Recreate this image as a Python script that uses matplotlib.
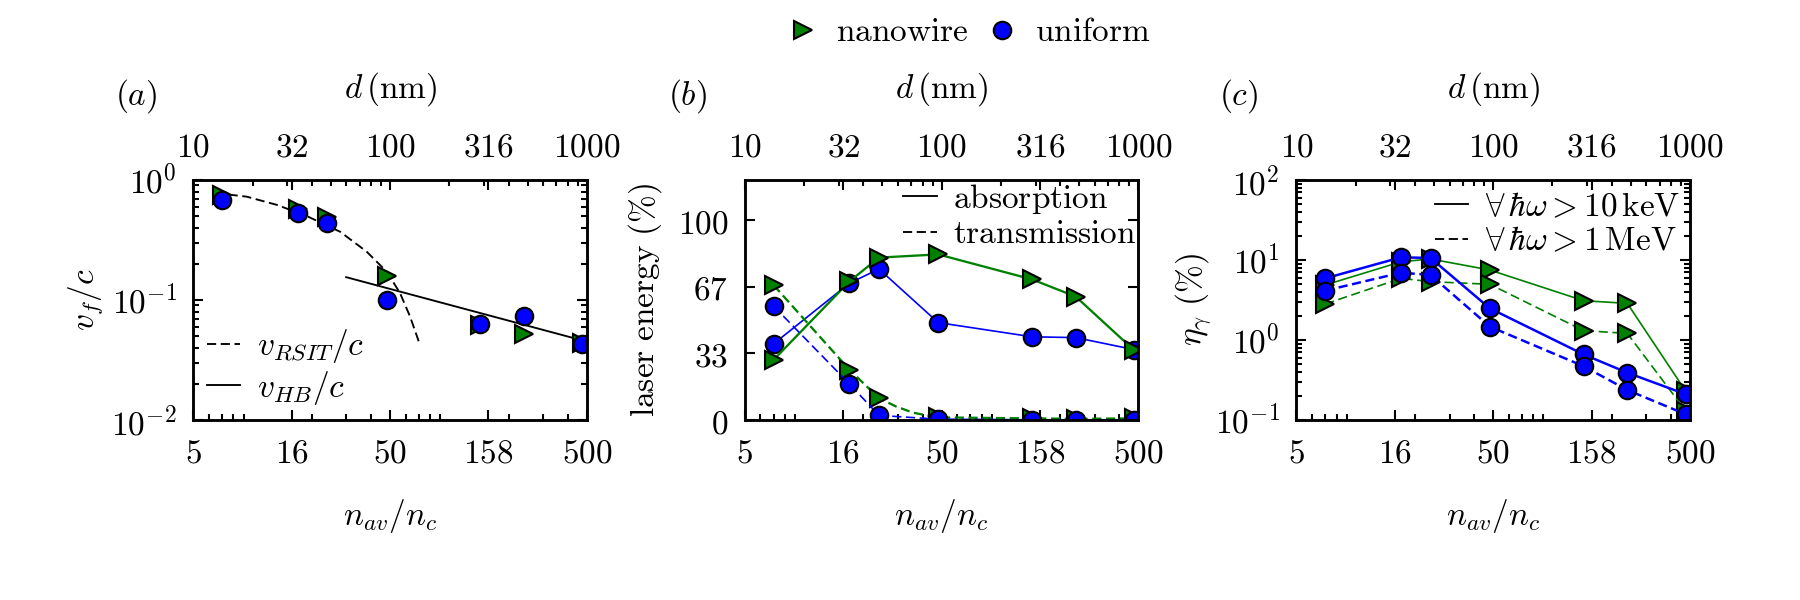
import numpy as np
import matplotlib
matplotlib.use("Agg")
import matplotlib.pyplot as plt
from matplotlib.ticker import FixedLocator, FixedFormatter, LogLocator, NullFormatter
from matplotlib.lines import Line2D

plt.rcParams['mathtext.fontset'] = 'cm'
plt.rcParams['font.size'] = 8
plt.rcParams['lines.scale_dashes'] = False

# density n_av/n_c of each run
n_av = [7, 17, 24, 48, 144, 240, 475]

# (a) front velocity
vf_wire = [0.75, 0.57, 0.494, 0.158, 0.062, 0.052, 0.044]
vf_unif = [0.68, 0.534, 0.435, 0.100, 0.063, 0.0736, 0.0427]
rsit_n = [6.44, 9.35, 13.3, 18.9, 27.9, 38.0, 48.1, 56.2, 63.2, 70.5]
rsit_v = [0.78, 0.726, 0.62, 0.50, 0.37, 0.253, 0.172, 0.114, 0.0726, 0.0435]
hb_n = [29.9, 500]
hb_v = [0.155, 0.045]

# (b) laser energy (%)
abs_wire = [30.1, 69.3, 81.2, 82.8, 70.3, 61.7, 34.9]
abs_unif = [38.1, 68.4, 75.5, 48.7, 41.6, 41.2, 35.2]
tr_unif = [56.9, 18.0, 2.3, 0.4, 0.1, 0.1, 0.1]
tr_wire = [67.4, 25.1, 10.9, 1.3, 0.8, 0.6, 0.8]
# green transmission curve as drawn (line only)
tr_wire_line_n = [7, 17, 24, 29.4, 35.7, 43.5, 48, 144, 240, 475]
tr_wire_line = [67.4, 25.1, 10.9, 6.7, 3.7, 2.0, 1.3, 0.8, 0.6, 0.8]

# (c) gamma conversion efficiency (%)
eta10_unif = [5.9, 10.8, 10.6, 2.49, 0.66, 0.39, 0.21]
eta1_unif = [4.14, 6.94, 6.5, 1.47, 0.47, 0.237, 0.118]
eta10_wire = [4.87, 9.5, 10.3, 7.5, 3.10, 2.87, 0.23]
eta1_wire = [2.82, 5.9, 5.36, 4.97, 1.31, 1.21, 0.13]

# axis ticks
n_ticks = [5, 15.81, 50, 158.1, 500]
n_labels = ['5', '16', '50', '158', '500']
d_ticks = [10, 31.62, 100, 316.2, 1000]
d_labels = ['10', '32', '100', '316', '1000']

green = (0, 0.5, 0)
blue = (0, 0, 1)
dash = (2.2, 1.1)


def sf(s):
    return r'$\mathsf{%s}$' % s


fig, axes = plt.subplots(1, 3, figsize=(6, 2), dpi=300)
fig.subplots_adjust(left=0.1074, right=0.9389, bottom=0.3, top=0.7, wspace=0.4016)

tick_kw = dict(direction='in', labelsize=8, width=0.5, pad=4)


def setup(ax, letter):
    for s in ax.spines.values():
        s.set_linewidth(0.6)
    ax.set_xscale('log')
    ax.set_xlim(5, 500)
    ax.xaxis.set_major_locator(FixedLocator(n_ticks))
    ax.xaxis.set_major_formatter(FixedFormatter([sf(s) for s in n_labels]))
    ax.xaxis.set_minor_locator(LogLocator(base=10, subs=np.arange(2, 10), numticks=50))
    ax.xaxis.set_minor_formatter(NullFormatter())
    ax.tick_params(which='major', length=2.3, **tick_kw)
    ax.tick_params(which='minor', length=1.4, **tick_kw)
    ax.yaxis.set_ticks_position('both')
    ax.set_xlabel(r'$n_{av}/n_c$', fontsize=8)
    ax.xaxis.set_label_coords(0.5, -0.32)

    top = ax.twiny()
    top.set_xscale('log')
    top.set_xlim(10, 1000)
    top.xaxis.set_major_locator(FixedLocator(d_ticks))
    top.xaxis.set_major_formatter(FixedFormatter([sf(s) for s in d_labels]))
    top.xaxis.set_minor_locator(LogLocator(base=10, subs=np.arange(2, 10), numticks=50))
    top.xaxis.set_minor_formatter(NullFormatter())
    top.tick_params(which='major', length=2.3, **tick_kw)
    top.tick_params(which='minor', length=1.4, **tick_kw)
    top.set_xlabel(r'$d\,(\mathrm{nm})$', fontsize=8)
    top.xaxis.set_label_coords(0.5, 1.345)
    for s in top.spines.values():
        s.set_linewidth(0.6)

    ax.text(-0.146, 1.35, '$(%s)$' % letter, transform=ax.transAxes,
            ha='center', va='center', fontsize=8)


mk = dict(markersize=4.2, markeredgecolor='k', markeredgewidth=0.5)

# ---- (a)
ax = axes[0]
setup(ax, 'a')
ax.set_yscale('log')
ax.set_ylim(0.01, 1)
ax.yaxis.set_major_locator(FixedLocator([0.01, 0.1, 1]))
ax.yaxis.set_major_formatter(FixedFormatter([sf('10^{-2}'), sf('10^{-1}'), sf('10^{0}')]))
ax.yaxis.set_minor_locator(LogLocator(base=10, subs=np.arange(2, 10), numticks=50))
ax.yaxis.set_minor_formatter(NullFormatter())
ax.plot(rsit_n, rsit_v, color='k', lw=0.45, dashes=dash, label=r'$v_{RSIT}/c$')
ax.plot(hb_n, hb_v, color='k', lw=0.45, label=r'$v_{HB}/c$')
ax.plot(n_av, vf_wire, ls='none', marker='>', color=green, **mk)
ax.plot(n_av, vf_unif, ls='none', marker='o', color=blue, **mk)
ax.set_ylabel(r'$v_f/c$', fontsize=8)
ax.yaxis.set_label_coords(-0.224, 0.5)
ax.legend(loc='lower left', frameon=False, fontsize=8, handlelength=1.0,
          handletextpad=0.5, labelspacing=0.1, borderaxespad=0.3, borderpad=0.1)

# ---- (b)
ax = axes[1]
setup(ax, 'b')
ax.set_ylim(0, 120)
ax.yaxis.set_major_locator(FixedLocator([0, 100 / 3, 200 / 3, 100]))
ax.yaxis.set_major_formatter(FixedFormatter([sf('0'), sf('33'), sf('67'), sf('100')]))
ax.plot(n_av, abs_unif, color=blue, lw=0.4, marker='o', **mk)
ax.plot(n_av, abs_wire, color=green, lw=0.55, marker='>', **mk)
ax.plot(tr_wire_line_n, tr_wire_line, color=green, lw=0.55, dashes=dash)
ax.plot(n_av, tr_wire, ls='none', marker='>', color=green, **mk)
ax.plot(n_av, tr_unif, color=blue, lw=0.4, dashes=dash, marker='o', **mk)
ax.set_ylabel(r'$\mathrm{laser\ energy\ (\%)}$', fontsize=8)
ax.yaxis.set_label_coords(-0.205, 0.5)
hb = [Line2D([], [], color='k', lw=0.45), Line2D([], [], color='k', lw=0.45, dashes=dash)]
ax.legend(hb, [r'$\mathrm{absorption}$', r'$\mathrm{transmission}$'], loc='upper right',
          frameon=False, fontsize=8, handlelength=1.0, handletextpad=0.5,
          labelspacing=0.05, borderaxespad=0.0, borderpad=0.05)

# ---- (c)
ax = axes[2]
setup(ax, 'c')
ax.set_yscale('log')
ax.set_ylim(0.1, 100)
ax.yaxis.set_major_locator(FixedLocator([0.1, 1, 10, 100]))
ax.yaxis.set_major_formatter(FixedFormatter([sf('10^{-1}'), sf('10^{0}'), sf('10^{1}'), sf('10^{2}')]))
ax.yaxis.set_minor_locator(LogLocator(base=10, subs=np.arange(2, 10), numticks=50))
ax.yaxis.set_minor_formatter(NullFormatter())
ax.plot(n_av, eta10_wire, color=green, lw=0.4, marker='>', **mk)
ax.plot(n_av, eta1_wire, color=green, lw=0.4, dashes=dash, marker='>', **mk)
ax.plot(n_av, eta10_unif, color=blue, lw=0.6, marker='o', **mk)
ax.plot(n_av, eta1_unif, color=blue, lw=0.6, dashes=dash, marker='o', **mk)
ax.set_ylabel(r'$\eta_\gamma\ (\%)$', fontsize=8)
ax.yaxis.set_label_coords(-0.21, 0.5)
hc = [Line2D([], [], color='k', lw=0.45), Line2D([], [], color='k', lw=0.45, dashes=dash)]
ax.legend(hc, [r'$\forall\,\hbar\omega>10\,\mathrm{keV}$', r'$\forall\,\hbar\omega>1\,\mathrm{MeV}$'],
          loc='upper right', frameon=False, fontsize=8, handlelength=1.0,
          handletextpad=0.5, labelspacing=0.05, borderaxespad=0.2, borderpad=0.1)

# shared marker legend on top
hm = [Line2D([], [], ls='none', marker='>', color=green, **mk),
      Line2D([], [], ls='none', marker='o', color=blue, **mk)]
fig.legend(hm, [r'$\mathrm{nanowire}$', r'$\mathrm{uniform}$'], loc='center',
           bbox_to_anchor=(0.538, 0.947), ncol=2, frameon=False, fontsize=8,
           handlelength=1.0, handletextpad=0.5, columnspacing=0.5, numpoints=1)

fig.savefig('out.png', dpi=300)
